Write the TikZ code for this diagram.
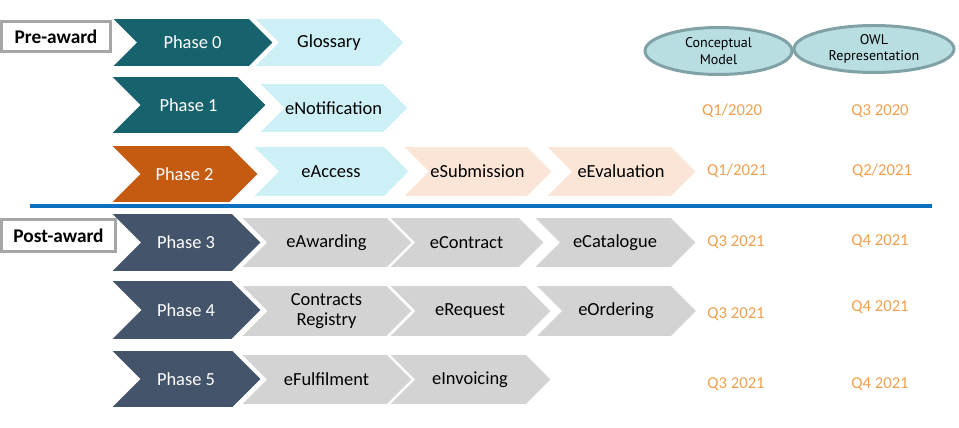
\documentclass[tikz,border=0pt]{standalone}
\usepackage{fontspec}
\setmainfont{Carlito}
\newfontfamily\ellfont{PT Sans}
\usetikzlibrary{shapes.symbols}
\usetikzlibrary{shapes.geometric}

\definecolor{tealdark}{HTML}{17636D}
\definecolor{orangedark}{HTML}{C55A11}
\definecolor{slate}{HTML}{44546A}
\definecolor{cyanlight}{HTML}{CDF0F7}
\definecolor{peach}{HTML}{FBE5D6}
\definecolor{greylight}{HTML}{D3D3D3}
\definecolor{rulblue}{HTML}{0A6FBF}
\definecolor{dateorange}{HTML}{F0A050}
\definecolor{ellfill}{HTML}{B8DEE1}
\definecolor{elldraw}{HTML}{80A2A6}

\tikzset{
	wh/.style 2 args={minimum width=#1*0.02cm, minimum height=#2*0.02cm},
	chev/.style={signal, signal from=west, signal to=east, signal pointer angle=90,
		draw=white, line width=1.1pt, inner sep=0pt, align=center,
		font=\fontsize{10.5}{11.5}\selectfont},
	phase/.style={chev, text=white},
	item/.style={chev, text=black},
	tag/.style={draw=black!35, line width=1.6pt, fill=white, inner sep=0pt,
		font=\fontsize{11}{13}\selectfont\bfseries},
	quarter/.style={text=dateorange, font=\fontsize{9.5}{11}\selectfont},
	repr/.style={ellipse, fill=ellfill, draw=elldraw, line width=1.7pt, inner sep=0pt,
		align=center, font=\ellfont\fontsize{8}{9.5}\selectfont}
}

\begin{document}
\begin{tikzpicture}[x=0.02cm,y=-0.02cm]
\useasboundingbox (0,0) rectangle (959,428);

% pre-award
\node[item, fill=cyanlight, wh={152}{49}] (gloss) at (329,42.5) {Glossary};
\node[phase, fill=tealdark, wh={163}{49}] (ph0) at (192.5,42.5) {Phase 0};

\node[item, fill=cyanlight, wh={151}{50}] (enot) at (333.5,108) {eNotification};
\node[phase, fill=tealdark, wh={157}{58}] (ph1) at (188.5,105) {Phase 1};

\node[item, fill=peach, wh={152}{51}] (eeval) at (621,171.5) {eEvaluation};
\node[item, fill=peach, wh={151}{51}] (esub) at (477.5,171.5) {eSubmission};
\node[item, fill=cyanlight, wh={158}{51}] (eacc) at (331,171.5) {eAccess};
\node[phase, fill=orangedark, wh={149}{58}] (ph2) at (184.5,174) {Phase 2};

% separator
\coordinate (ruleL) at (30,206);
\coordinate (ruleR) at (932,206);
\draw[rulblue, line width=2.3pt] (ruleL) -- (ruleR);

% post-award
\node[item, fill=greylight, wh={164}{51}] (ecat) at (615,242.5) {eCatalogue};
\node[item, fill=greylight, wh={157}{51}] (econ) at (466.5,242.5) {eContract};
\node[item, fill=greylight, wh={173}{51}] (eawd) at (326.5,242.5) {eAwarding};
\node[phase, fill=slate, wh={152}{59}] (ph3) at (186,242.5) {Phase 3};

\node[item, fill=greylight, wh={163}{52}] (eord) at (616,311) {eOrdering};
\node[item, fill=greylight, wh={164}{52}] (ereq) at (470,311) {eRequest};
\node[item, fill=greylight, wh={173}{52}] (creg) at (326.5,311) {Contracts\\Registry};
\node[phase, fill=slate, wh={152}{60}] (ph4) at (186,310) {Phase 4};

\node[item, fill=greylight, wh={164}{51}] (einv) at (470,379.5) {eInvoicing};
\node[item, fill=greylight, wh={173}{51}] (eful) at (326.5,379.5) {eFulfilment};
\node[phase, fill=slate, wh={152}{58}] (ph5) at (186,379) {Phase 5};

% labels
\node[tag, wh={109}{30}] (pre) at (56,36.5) {Pre-award};
\node[tag, wh={114}{32}] (post) at (58.5,235.5) {Post-award};

% representations
\node[repr, wh={147}{47}] (cmodel) at (718.5,51) {Conceptual\\Model};
\node[repr, wh={160}{47}] (owl) at (874,49) {OWL\\Representation};

\node[quarter] (q00) at (732,111) {Q1/2020};
\node[quarter] (q01) at (880,111) {Q3 2020};
\node[quarter] (q10) at (737,171) {Q1/2021};
\node[quarter] (q11) at (882,171) {Q2/2021};
\node[quarter] (q20) at (736,242) {Q3 2021};
\node[quarter] (q21) at (880,241) {Q4 2021};
\node[quarter] (q30) at (736,314) {Q3 2021};
\node[quarter] (q31) at (880,307) {Q4 2021};
\node[quarter] (q40) at (736,384) {Q3 2021};
\node[quarter] (q41) at (880,384) {Q4 2021};
\end{tikzpicture}
\end{document}
